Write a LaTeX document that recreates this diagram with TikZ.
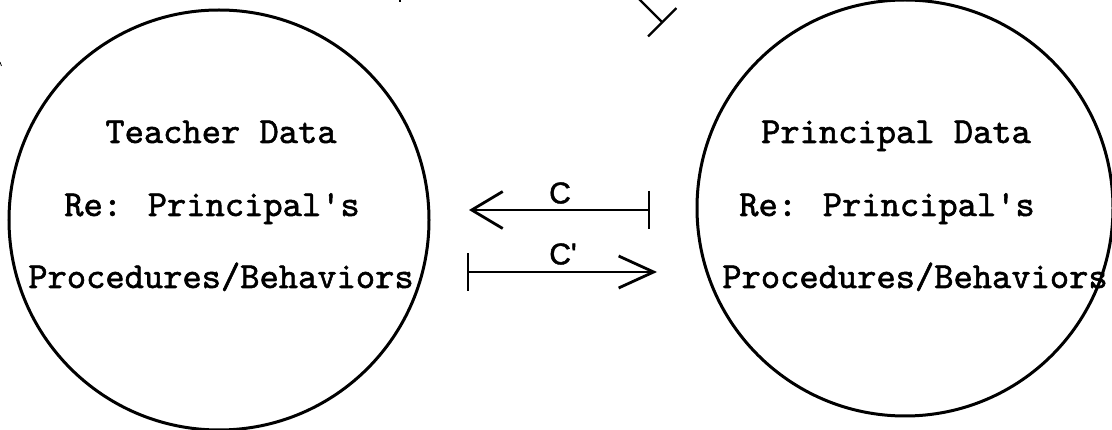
\documentclass[tikz,border=0pt]{standalone}
\usepackage{fontspec}
\newfontfamily\typew{lmmono10-regular.otf}[FakeBold=1.5]
\newfontfamily\handlab{Liberation Sans}[FakeBold=1.5]
\usetikzlibrary{arrows.meta}
\tikzset{
  barbtip/.tip={Straight Barb[length=31pt,width=37pt,line width=2.8pt]},
  barbtipb/.tip={Straight Barb[length=35pt,width=32pt,line width=2.8pt]},
  bartip/.tip={Bar[width=38pt,line width=2.2pt]},
  bartipy/.tip={Bar[width=40pt,line width=2.2pt]}
}
\begin{document}
\begin{tikzpicture}[x=1pt,y=-1pt,
  bubble/.style={draw=black,line width=3pt,circle,inner sep=0pt},
  datatext/.style={font=\typew\fontsize{36.7}{40}\selectfont,anchor=base,inner sep=0pt},
  flowlabel/.style={font=\handlab\fontsize{30}{32}\selectfont,inner sep=0pt},
  flow/.style={line width=2.2pt,line cap=round,line join=round}
]
\useasboundingbox (0,0) rectangle (1112,430);
\fill[white] (0,0) rectangle (1112,430);

% circles
\node[bubble,minimum size=420pt] (tcirc) at (219,220) {};
\node[bubble,minimum size=416pt] (pcirc) at (905,208) {};

% left texts
\node[datatext] (t1) at (221,143) {Teacher Data};
\node[datatext] (t2) at (212,216) {Re: Principal's};
\node[datatext] (t3) at (221,288) {Procedures/Behaviors};

% right texts
\node[datatext] (p1) at (896,143) {Principal Data};
\node[datatext] (p2) at (887,216) {Re: Principal's};
\node[datatext] (p3) at (915,288) {Procedures/Behaviors};

% arrows
\coordinate (cstart) at (650,210);
\coordinate (cend) at (469,210);
\coordinate (dstart) at (467,272);
\coordinate (dend) at (657,272);
\draw[flow,bartip-barbtip] (cstart) -- (cend);
\draw[flow,bartip-barbtipb] (dstart) -- (dend);
\node[flowlabel] (clab) at (560,193) {C};
\node[flowlabel] (cplab) at (563,254) {C'};

% cut-off stroke at top
\coordinate (ystart) at (636,-4);
\coordinate (yend) at (663,23);
\draw[flow,-bartipy] (ystart) -- (yend);

% small marks at edges
\coordinate (m1a) at (400,0);
\coordinate (m1b) at (400,2.5);
\draw[line width=1.2pt] (m1a) -- (m1b);
\coordinate (m2a) at (0,62);
\coordinate (m2b) at (1.5,66);
\draw[line width=0.8pt] (m2a) -- (m2b);
\end{tikzpicture}
\end{document}
